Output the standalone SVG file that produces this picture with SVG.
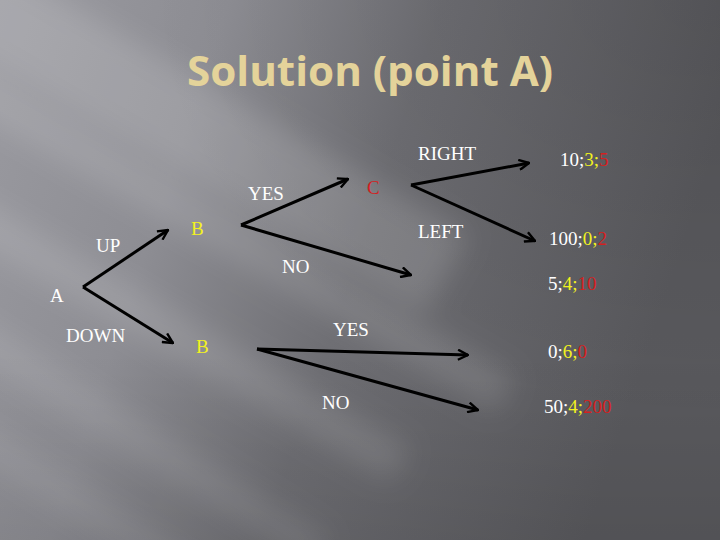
<svg xmlns="http://www.w3.org/2000/svg" width="720" height="540" viewBox="0 0 720 540">
  <defs>
    <linearGradient id="bg" x1="0" y1="0" x2="1" y2="0.25">
      <stop offset="0" stop-color="#9a9aa0"/>
      <stop offset="0.3" stop-color="#8d8d93"/>
      <stop offset="0.58" stop-color="#6e6e73"/>
      <stop offset="1" stop-color="#59595d"/>
    </linearGradient>
    <linearGradient id="shadeB" x1="0" y1="0" x2="0" y2="1">
      <stop offset="0.65" stop-color="#000" stop-opacity="0"/>
      <stop offset="1" stop-color="#000" stop-opacity="0.08"/>
    </linearGradient>
    <radialGradient id="shadeTR" cx="1" cy="0" r="0.8">
      <stop offset="0" stop-color="#000" stop-opacity="0.1"/>
      <stop offset="1" stop-color="#000" stop-opacity="0"/>
    </radialGradient>
    <filter id="blur" x="-30%" y="-30%" width="160%" height="160%">
      <feGaussianBlur stdDeviation="14"/>
    </filter>
    <marker id="arrow" viewBox="0 0 12 12" refX="11" refY="6" markerWidth="12" markerHeight="12" markerUnits="userSpaceOnUse" orient="auto">
      <path d="M1,1 L11,6 L1,11" fill="none" stroke="#000" stroke-width="2.4" stroke-linejoin="miter"/>
    </marker>
    <style>
      .lbl { font-family: "Liberation Serif", "Times New Roman", serif; font-size: 19px; fill: #ffffff; }
      .node { font-family: "Liberation Serif", "Times New Roman", serif; font-size: 19px; }
      .yel { fill: #f2f21e; }
      .red { fill: #d42020; }
      .wht { fill: #ffffff; }
      .edge { stroke: #000; stroke-width: 3; fill: none; marker-end: url(#arrow); }
      .title { font-family: "Open Sans", "Noto Sans", sans-serif; font-weight: bold; font-size: 42px; fill: #e4d39a; }
    </style>
  </defs>

  <!-- background -->
  <rect x="0" y="0" width="720" height="540" fill="url(#bg)"/>
  <rect x="0" y="0" width="720" height="540" fill="url(#shadeTR)"/>
  <g filter="url(#blur)" fill="#ffffff">
    <rect x="-200" y="40" width="700" height="90" opacity="0.14" transform="rotate(30 120 80)"/>
    <rect x="-200" y="170" width="760" height="40" opacity="0.12" transform="rotate(30 150 190)"/>
    <rect x="-250" y="260" width="700" height="40" opacity="0.12" transform="rotate(30 80 280)"/>
    <rect x="-250" y="360" width="620" height="35" opacity="0.10" transform="rotate(32 40 380)"/>
    <rect x="-250" y="450" width="500" height="30" opacity="0.09" transform="rotate(32 20 460)"/>
  </g>
  <rect x="0" y="0" width="720" height="540" fill="url(#shadeB)"/>

  <!-- title -->
  <text class="title" x="187" y="86" textLength="366" lengthAdjust="spacingAndGlyphs">Solution (point A)</text>

  <!-- connectors -->
  <g id="connectors">
    <line class="edge" x1="83" y1="287" x2="168" y2="230"/>
    <line class="edge" x1="83" y1="287" x2="173" y2="343"/>
    <line class="edge" x1="241" y1="225" x2="348" y2="179"/>
    <line class="edge" x1="241" y1="225" x2="411" y2="275"/>
    <line class="edge" x1="411" y1="185" x2="529" y2="163"/>
    <line class="edge" x1="411" y1="185" x2="535" y2="241"/>
    <line class="edge" x1="257" y1="349" x2="468" y2="355"/>
    <line class="edge" x1="257" y1="349" x2="478" y2="410"/>
  </g>

  <!-- edge labels -->
  <g id="edge-labels">
    <text class="lbl" x="96" y="252">UP</text>
    <text class="lbl" x="66" y="342">DOWN</text>
    <text class="lbl" x="248" y="200">YES</text>
    <text class="lbl" x="282" y="273">NO</text>
    <text class="lbl" x="418" y="160">RIGHT</text>
    <text class="lbl" x="418" y="238">LEFT</text>
    <text class="lbl" x="333" y="336">YES</text>
    <text class="lbl" x="322" y="409">NO</text>
  </g>

  <!-- decision nodes -->
  <g id="node-A"><text class="node wht" x="50" y="302">A</text></g>
  <g id="node-B-up"><text class="node yel" x="191" y="235">B</text></g>
  <g id="node-B-down"><text class="node yel" x="196" y="353">B</text></g>
  <g id="node-C"><text class="node red" x="367" y="194" font-size="20">C</text></g>

  <!-- payoffs -->
  <g id="payoff-right"><text class="node" x="560" y="166"><tspan class="wht">10;</tspan><tspan class="yel">3;</tspan><tspan class="red">5</tspan></text></g>
  <g id="payoff-left"><text class="node" x="549" y="245"><tspan class="wht">100;</tspan><tspan class="yel">0;</tspan><tspan class="red">2</tspan></text></g>
  <g id="payoff-up-no"><text class="node" x="548" y="290"><tspan class="wht">5;</tspan><tspan class="yel">4;</tspan><tspan class="red">10</tspan></text></g>
  <g id="payoff-down-yes"><text class="node" x="548" y="358"><tspan class="wht">0;</tspan><tspan class="yel">6;</tspan><tspan class="red">0</tspan></text></g>
  <g id="payoff-down-no"><text class="node" x="544" y="413"><tspan class="wht">50;</tspan><tspan class="yel">4;</tspan><tspan class="red">200</tspan></text></g>
</svg>
